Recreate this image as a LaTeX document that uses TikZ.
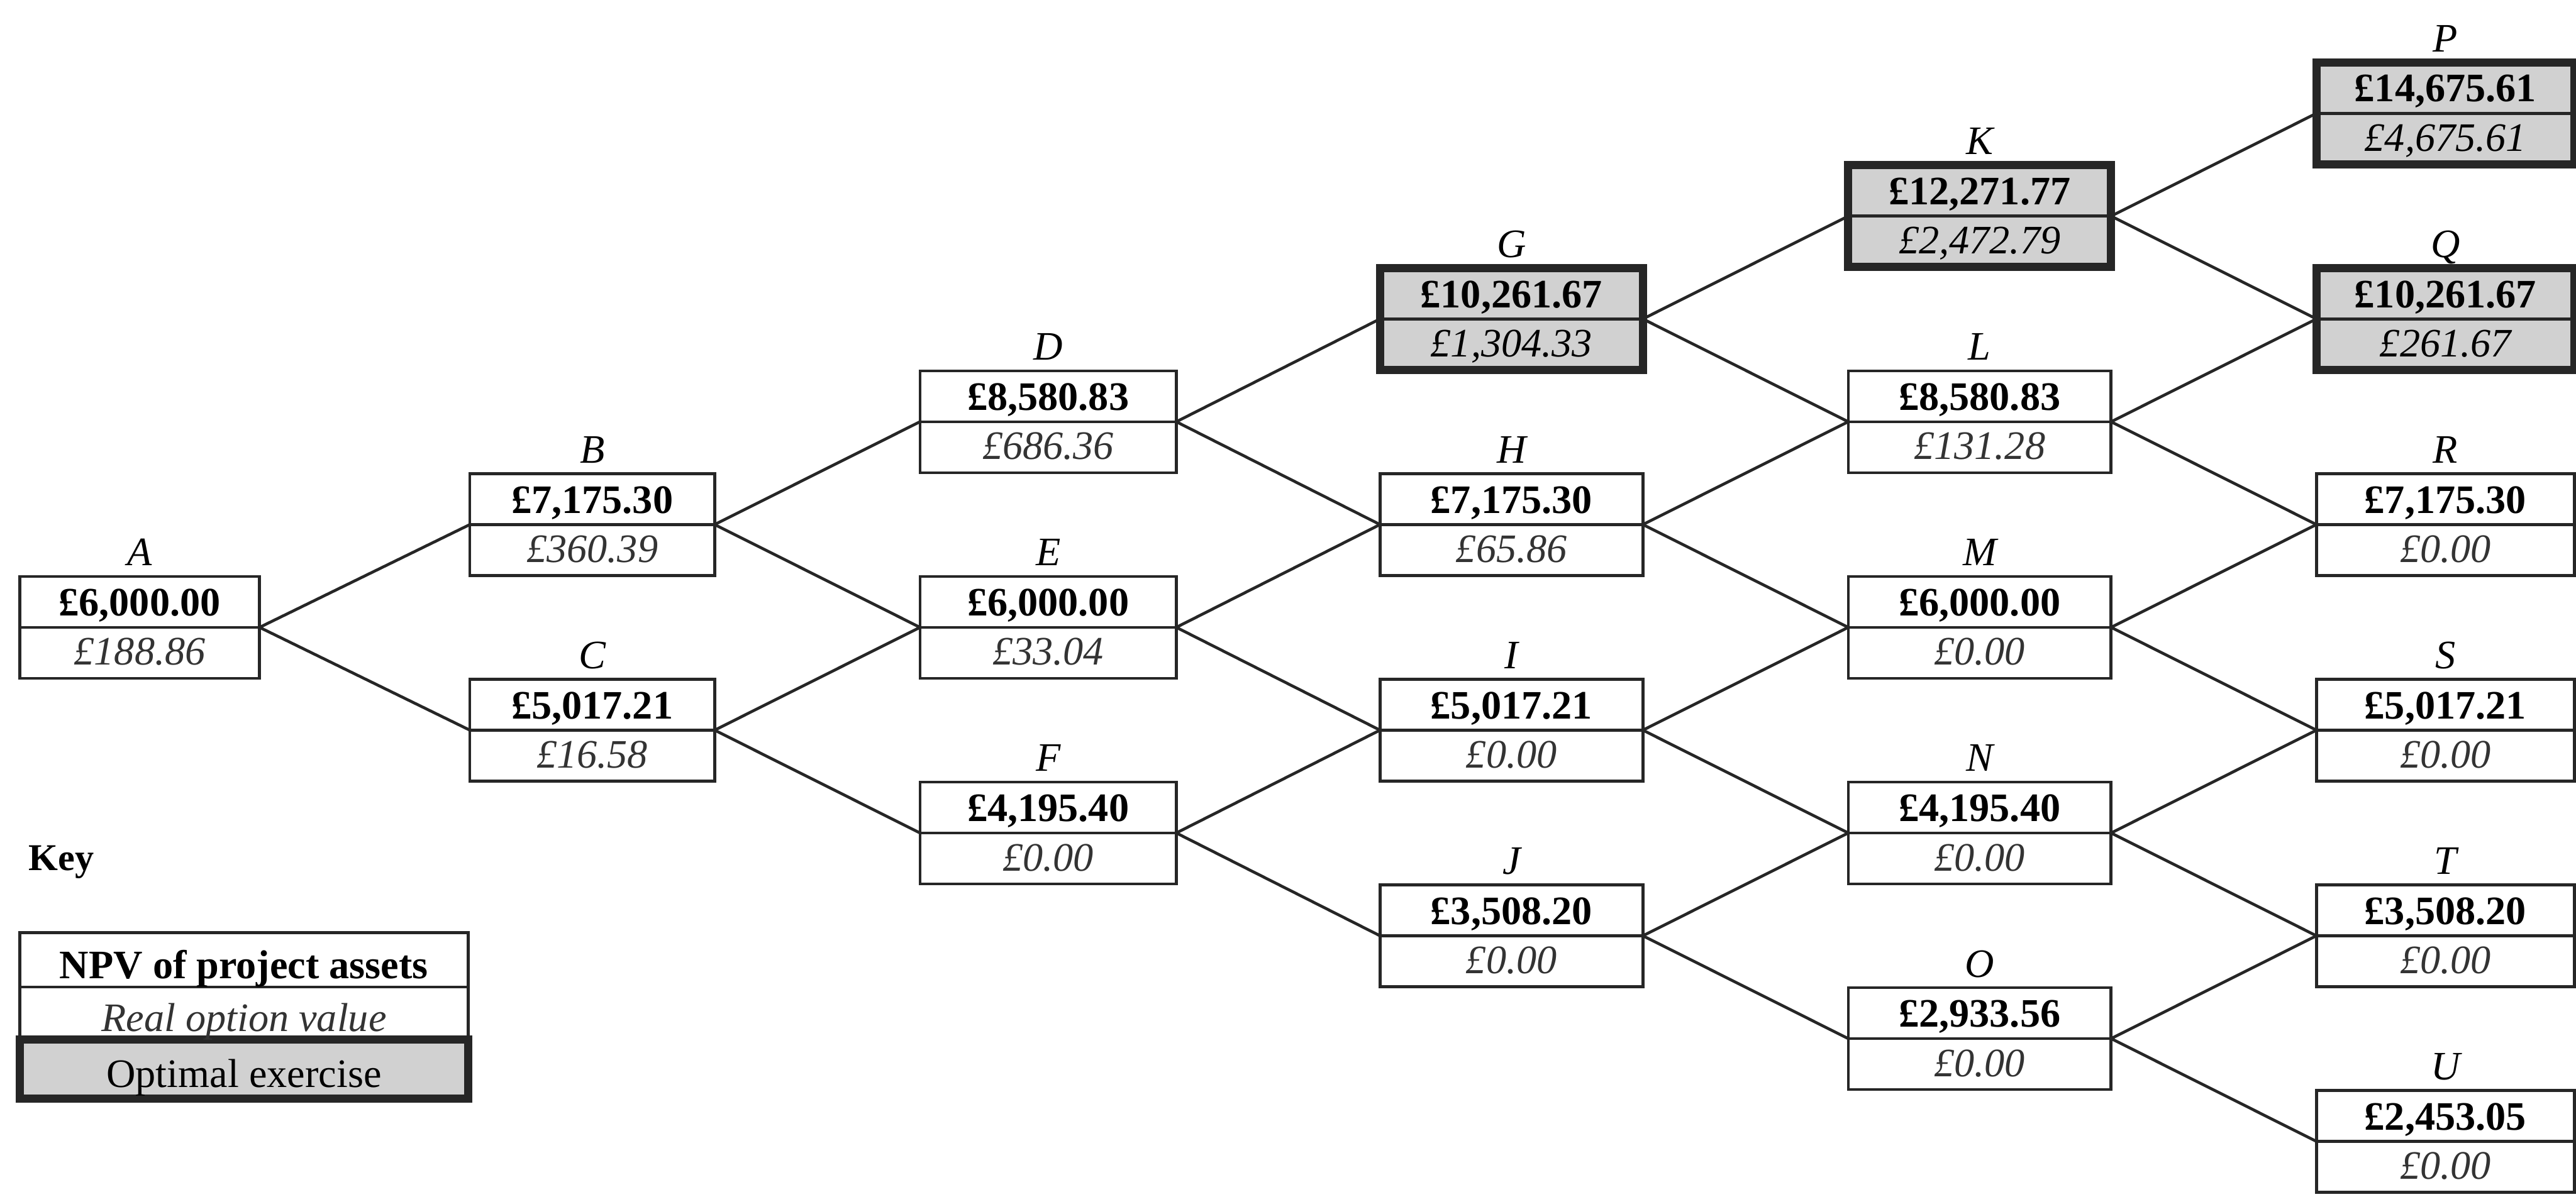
\documentclass[tikz,border=0pt]{standalone}
\usepackage{fontspec}
\setmainfont{Liberation Serif}
\usetikzlibrary{calc}

% one valuation cell: name, x, y (divider level), width, label, NPV, option value
\newcommand{\valnode}[8][]{%
  \node[cell, minimum width=#5*0.16mm, #1] (#2) at (#3,#4) {};
  \draw[divider] (#2.west) -- (#2.east);
  \node[tag] (#2-tag) at ($(#2.center)+(0,-37.5)$) {#6};
  \node[npv] (#2-npv) at ($(#2.center)+(0,-7)$) {#7};
  \node[#1opt] (#2-opt) at ($(#2.center)+(0,23)$) {#8};
}

\begin{document}
\begin{tikzpicture}[x=0.16mm, y=-0.16mm,
  cell/.style={draw=black!85, line width=0.8pt, fill=white,
    minimum height=62*0.16mm, inner sep=0pt, outer sep=0pt},
  best/.style={fill=black!18, line width=2.2pt},
  divider/.style={draw=black!85, line width=0.8pt},
  npv/.style={font=\fontsize{11.2}{13}\selectfont\bfseries, anchor=base, inner sep=0pt},
  opt/.style={font=\fontsize{11.2}{13}\selectfont\itshape, anchor=base, inner sep=0pt, text=black!80},
  bestopt/.style={opt, text=black},
  tag/.style={font=\fontsize{11.2}{13}\selectfont\itshape, anchor=base, inner sep=0pt},
  keytxt/.style={font=\fontsize{11.2}{13}\selectfont, anchor=base, inner sep=0pt},
  link/.style={draw=black!85, line width=0.8pt},
]
\useasboundingbox (0,0) rectangle (1568,728.7);

% period 0
\valnode{A}{85}{382}{146}{A}{£6,000.00}{£188.86}
% period 1
\valnode{B}{360.5}{319.4}{149}{B}{£7,175.30}{£360.39}
\valnode{C}{360.5}{444.6}{149}{C}{£5,017.21}{£16.58}
% period 2
\valnode{D}{638}{256.8}{156}{D}{£8,580.83}{£686.36}
\valnode{E}{638}{382}{156}{E}{£6,000.00}{£33.04}
\valnode{F}{638}{507.2}{156}{F}{£4,195.40}{£0.00}
% period 3
\valnode[best]{G}{920}{194.2}{160}{G}{£10,261.67}{£1,304.33}
\valnode{H}{920}{319.4}{160}{H}{£7,175.30}{£65.86}
\valnode{I}{920}{444.6}{160}{I}{£5,017.21}{£0.00}
\valnode{J}{920}{569.8}{160}{J}{£3,508.20}{£0.00}
% period 4
\valnode[best]{K}{1205}{131.6}{160}{K}{£12,271.77}{£2,472.79}
\valnode{L}{1205}{256.8}{160}{L}{£8,580.83}{£131.28}
\valnode{M}{1205}{382}{160}{M}{£6,000.00}{£0.00}
\valnode{N}{1205}{507.2}{160}{N}{£4,195.40}{£0.00}
\valnode{O}{1205}{632.4}{160}{O}{£2,933.56}{£0.00}
% period 5
\valnode[best]{P}{1488.5}{69}{157}{P}{£14,675.61}{£4,675.61}
\valnode[best]{Q}{1488.5}{194.2}{157}{Q}{£10,261.67}{£261.67}
\valnode{R}{1488.5}{319.4}{157}{R}{£7,175.30}{£0.00}
\valnode{S}{1488.5}{444.6}{157}{S}{£5,017.21}{£0.00}
\valnode{T}{1488.5}{569.8}{157}{T}{£3,508.20}{£0.00}
\valnode{U}{1488.5}{695}{157}{U}{£2,453.05}{£0.00}

% lattice branches
\foreach \a/\b in {A/B, A/C, B/D, B/E, C/E, C/F,
                   D/G, D/H, E/H, E/I, F/I, F/J,
                   G/K, G/L, H/L, H/M, I/M, I/N, J/N, J/O,
                   K/P, K/Q, L/Q, L/R, M/R, M/S, N/S, N/T, O/T, O/U}
  \draw[link] (\a.east) -- (\b.west);

% key
\node[font=\fontsize{10.5}{12}\selectfont\bfseries, anchor=base west, inner sep=0pt]
  (keytitle) at (17,530) {Key};
\node[cell, minimum width=273*0.16mm, minimum height=33*0.16mm] (key1) at (148.5,584.5) {};
\node[cell, minimum width=273*0.16mm, minimum height=32*0.16mm] (key2) at (148.5,617) {};
\node[cell, best, minimum width=273*0.16mm, minimum height=36*0.16mm] (key3) at (148.5,651) {};
\node[keytxt, font=\fontsize{11.2}{13}\selectfont\bfseries] (key1-txt) at (148.5,596) {NPV of project assets};
\node[keytxt, font=\fontsize{11.2}{13}\selectfont\itshape, text=black!80] (key2-txt) at (148.5,628) {Real option value};
\node[keytxt] (key3-txt) at (148.5,662) {Optimal exercise};
\end{tikzpicture}
\end{document}
